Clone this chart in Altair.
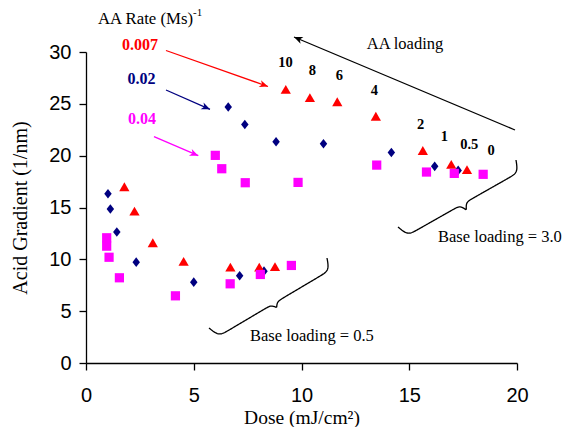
import altair as alt
import pandas as pd
import numpy as np

# ---------------- data ----------------
rate_labels = ["0.007", "0.02", "0.04"]
rate_colors = ["#FF0000", "#000080", "#FF00FF"]

red_dose = [1.78, 2.25, 3.10, 4.53, 6.70, 8.04, 8.77,
            9.27, 10.39, 11.66, 13.45, 15.63, 16.95, 17.68]
red_grad = [17.0, 14.65, 11.6, 9.8, 9.25, 9.25, 9.3,
            26.4, 25.6, 25.2, 23.8, 20.5, 19.16, 18.65]

blue_dose = [1.02, 1.13, 1.43, 2.33, 5.00, 7.13, 8.26,
             6.60, 7.37, 8.82, 11.02, 14.17, 16.18, 17.27]
blue_grad = [16.33, 14.85, 12.63, 9.73, 7.8, 8.42, 8.86,
             24.7, 23.0, 21.35, 21.15, 20.3, 18.97, 18.58]

mag_dose = [0.96, 0.96, 1.07, 1.55, 4.15, 6.69, 8.09, 9.53,
            6.00, 6.30, 7.39, 9.84, 13.49, 15.80, 17.09, 18.43]
mag_grad = [12.08, 11.27, 10.2, 8.22, 6.48, 7.64, 8.54, 9.41,
            20.03, 18.74, 17.39, 17.42, 19.09, 18.42, 18.29, 18.2]

aa_loading_labels = ["10", "8", "6", "4", "2", "1", "0.5", "0"]
x_ticks = [0, 5, 10, 15, 20]
y_ticks = [0, 5, 10, 15, 20, 25, 30]

# ---------------- layout ----------------
W, H = 431, 311
X0, Y0 = 86, 52
XMAX, YMAX = 20, 30


def dx(px):
    return (px - X0) / W * XMAX


def dy(py):
    return (Y0 + H - py) / H * YMAX


SERIF = "Liberation Serif"
SANS = "Liberation Sans"

xscale = alt.Scale(domain=[0, XMAX], nice=False, zero=False)
yscale = alt.Scale(domain=[0, YMAX], nice=False, zero=False)

xaxis = alt.Axis(values=x_ticks, grid=False, title="Dose (mJ/cm²)",
                 titleFont=SERIF, titleFontSize=19.5, titleFontWeight="normal",
                 titleColor="black", titleY=54, titleBaseline="middle",
                 labelFont=SANS, labelFontSize=20, labelColor="black",
                 labelPadding=15, tickSize=7, tickColor="black",
                 domainColor="black", domainWidth=1.3, tickWidth=1.3,
                 labelFlush=False)
yaxis = alt.Axis(values=y_ticks, grid=False, title="Acid Gradient (1/nm)",
                 titleFont=SERIF, titleFontSize=20, titleFontWeight="normal",
                 titleColor="black", titleX=-66, titleY=H / 2,
                 titleBaseline="middle", titleAngle=270,
                 labelFont=SANS, labelFontSize=20, labelColor="black",
                 labelPadding=8, tickSize=7, tickColor="black",
                 domainColor="black", domainWidth=1.3, tickWidth=1.3,
                 labelFlush=False)


def X(field):
    return alt.X(field, type="quantitative", scale=xscale, axis=xaxis)


def Y(field):
    return alt.Y(field, type="quantitative", scale=yscale, axis=yaxis)


# ---------------- scatter series ----------------
def series(dose, grad, name):
    return pd.DataFrame({"dose": dose, "grad": grad, "rate": name})


df_blue = series(blue_dose, blue_grad, rate_labels[1])
df_red = series(red_dose, red_grad, rate_labels[0])
df_mag = series(mag_dose, mag_grad, rate_labels[2])

diamond = "M0,-1L0.78,0L0,1L-0.78,0Z"

blue = alt.Chart(df_blue).mark_point(
    shape=diamond, filled=True, size=92, color=rate_colors[1], opacity=1
).encode(x=X("dose"), y=Y("grad"))
red = alt.Chart(df_red).mark_point(
    shape="triangle-up", filled=True, size=105, color=rate_colors[0], opacity=1
).encode(x=X("dose"), y=Y("grad"))
mag = alt.Chart(df_mag).mark_point(
    shape="square", filled=True, size=85, color=rate_colors[2], opacity=1
).encode(x=X("dose"), y=Y("grad"))

# ---------------- arrows ----------------
arrows_px = [
    # x1, y1, x2(tip), y2(tip), colour
    (515, 130, 294, 37, "black"),
    (166, 50.5, 268, 86.5, rate_colors[0]),
    (166, 90, 210, 109.3, rate_colors[1]),
    (154, 136.7, 198.3, 155.7, rate_colors[2]),
]
arr_rows = []
for x1, y1, x2, y2, c in arrows_px:
    ang = (np.degrees(np.arctan2(x2 - x1, -(y2 - y1)))) % 360
    arr_rows.append({"ax": dx(x1), "ay": dy(y1), "bx": dx(x2), "by": dy(y2),
                     "c": c, "ang": float(ang)})
df_arr = pd.DataFrame(arr_rows)

arrow_lines = alt.Chart(df_arr).mark_rule(strokeWidth=1.3).encode(
    x=X("ax"), y=Y("ay"), x2="bx", y2="by",
    color=alt.Color("c:N", scale=None))
arrow_heads = alt.Chart(df_arr).mark_point(
    shape="M0,0L-0.42,1L0,0.72L0.42,1Z", filled=True, size=300, opacity=1
).encode(x=X("bx"), y=Y("by"),
         color=alt.Color("c:N", scale=None),
         angle=alt.Angle("ang:Q", scale=None))


# ---------------- braces ----------------
def brace(p1, p2, A, B, bid, n=160, b1=0.45, b2=0.6):
    p1 = np.array(p1, float)
    p2 = np.array(p2, float)
    L = np.linalg.norm(p2 - p1)
    u = (p2 - p1) / L
    nv = np.array([-u[1], u[0]])
    h = L / 2
    rows = []
    for i, s in enumerate(np.linspace(0, L, n)):
        sp = s if s <= h else L - s
        off = A * (2 / (1 + np.exp(-b1 * sp)) - 1) + B * 2 / (1 + np.exp(-b2 * (sp - h)))
        p = p1 + u * s + nv * off
        rows.append({"bx": dx(p[0]), "by": dy(p[1]), "o": i, "id": bid})
    return rows


df_br = pd.DataFrame(brace((209, 328), (327, 258), 12, 5, "low")
                     + brace((398, 227), (516, 160), 12, 7, "high"))
braces = alt.Chart(df_br).mark_line(color="black", strokeWidth=1.3).encode(
    x=X("bx"), y=Y("by"), order="o:Q", detail="id:N")

# ---------------- texts ----------------
num_px = [(285.5, 63), (312.3, 70.7), (339.3, 76), (374.3, 90.7),
          (420.7, 125), (444.3, 137.3), (469.3, 144.7), (491, 150.7)]
df_num = pd.DataFrame({"tx": [dx(p[0]) for p in num_px],
                       "ty": [dy(p[1]) for p in num_px],
                       "t": aa_loading_labels})
nums = alt.Chart(df_num).mark_text(
    font=SERIF, fontSize=14.5, fontWeight="bold", color="black",
    align="center", baseline="middle"
).encode(x=X("tx"), y=Y("ty"), text="t:N")

rate_px = [(140, 45), (141.5, 79), (142, 119)]
df_rate = pd.DataFrame({"tx": [dx(p[0]) for p in rate_px],
                        "ty": [dy(p[1]) for p in rate_px],
                        "t": rate_labels, "c": rate_colors})
rates = alt.Chart(df_rate).mark_text(
    font=SERIF, fontSize=16, fontWeight="bold", align="center", baseline="middle"
).encode(x=X("tx"), y=Y("ty"), text="t:N", color=alt.Color("c:N", scale=None))

plain_px = [(98, 18.5, "AA Rate (Ms)", "left", 16.8),
            (405, 44, "AA loading", "center", 16.5),
            (250, 336, "Base loading = 0.5", "left", 16.5),
            (438, 237, "Base loading = 3.0", "left", 16.5)]


def plain_layer(px, py, t, al, fs):
    d = pd.DataFrame({"tx": [dx(px)], "ty": [dy(py)], "t": [t]})
    return alt.Chart(d).mark_text(
        font=SERIF, fontSize=fs, color="black", align=al, baseline="middle"
    ).encode(x=X("tx"), y=Y("ty"), text="t:N")


plains = [plain_layer(*p) for p in plain_px]
sup = plain_layer(193, 12.5, "-1", "left", 11)

chart = alt.layer(
    braces, arrow_lines, arrow_heads, blue, red, mag, nums, rates, *plains, sup
).properties(
    width=W, height=H,
    padding={"left": X0, "top": Y0, "right": 564 - X0 - W, "bottom": 427 - Y0 - H},
    autosize="none",
    background="white",
).configure_view(stroke=None)

chart.save("out.html", embed_options={"renderer": "svg", "actions": False})
